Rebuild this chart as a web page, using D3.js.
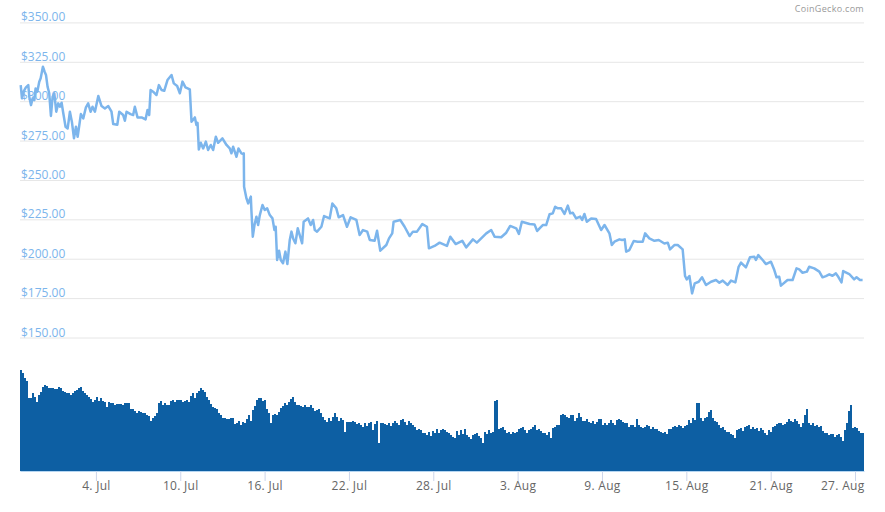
<!DOCTYPE html>
<meta charset="utf-8">
<style>
    html, body { margin: 0; background: #fff; }
    text { font-family: "Open Sans", sans-serif; }
</style>
<script src="https://d3js.org/d3.v7.min.js"></script>
<div id="graph"></div>
<script>
    // days counted from 1 Jul, price in USD
    var priceDays = [-2.35,-2.26,-2.12,-1.98,-1.81,-1.74,-1.62,-1.50,-1.38,-1.29,-1.17,-1.03,-0.93,-0.77,-0.65,-0.55,-0.44,-0.32,-0.20,-0.08,
        0.04,0.18,0.32,0.44,0.56,0.68,0.84,0.99,1.15,1.29,1.44,1.58,1.70,1.82,1.93,2.10,2.29,2.45,2.62,2.76,2.93,3.17,3.40,3.64,3.88,
        4.11,4.23,4.52,4.66,4.94,5.06,5.18,5.46,5.65,5.77,5.96,6.25,6.53,6.67,6.79,6.89,7.07,7.31,7.48,7.67,7.86,8.09,8.38,8.54,8.78,8.97,
        9.16,9.37,9.68,9.80,10.04,10.15,10.23,10.32,10.46,10.63,10.82,10.98,11.17,11.34,11.53,11.69,12.0,12.29,12.52,12.64,12.76,13.0,13.14,13.35,13.49,
        13.52,13.54,13.71,13.83,14.02,14.06,14.16,14.28,14.42,14.54,14.66,14.85,15.01,15.18,15.37,15.56,15.7,15.79,15.89,16.03,16.15,16.31,16.48,16.62,16.79,16.91,
        17.03,17.19,17.36,17.5,17.67,17.78,18.09,18.28,18.45,18.57,18.73,19.04,19.23,19.63,19.82,20.1,20.27,20.58,20.86,21.12,21.53,21.76,22.0,22.3,22.48,22.83,23.0,23.23,23.66,23.85,
        24.08,24.18,24.65,24.96,25.32,25.55,25.84,26.22,26.55,26.69,27.09,27.45,27.97,28.21,28.59,29.06,29.34,29.82,30.1,30.77,31.12,31.36,31.83,32.19,32.47,32.9,33.09,33.3,33.85,34.2,34.39,
        34.56,34.79,35.03,35.27,35.5,35.67,35.86,36.1,36.33,36.57,36.74,36.92,37.16,37.45,37.59,37.75,37.92,38.23,38.58,38.94,39.18,39.53,39.7,39.89,40.24,40.43,40.62,40.72,40.95,41.26,41.54,41.9,
        42.07,42.37,42.73,43.04,43.44,43.68,43.84,44.15,44.39,44.74,44.91,45.03,45.22,45.41,45.6,45.88,46.12,46.4,46.76,47.11,47.35,47.59,47.94,48.18,48.49,48.72,48.89,49.24,49.53,49.84,49.95,
        50.12,50.43,50.67,51.02,51.26,51.42,51.61,51.73,52.2,52.56,52.84,53.03,53.27,53.58,53.74,54.1,54.46,54.69,54.93,55.17,55.4,55.64,55.83,56.04,56.16,56.59,56.94,57.11,57.35,57.54];

    var prices = [310.2,301.8,306.6,308.8,310.2,302.8,297.5,301.8,300.7,308.1,306,312.4,314.5,321.9,318.7,316.6,309.2,305,290.6,302.8,
        305,293.3,298.6,296.5,299,292.3,283.8,282.7,293.3,287,276.4,283.8,277.4,284.9,291.8,289.1,296.1,298.6,293.3,296.5,293.3,303.3,296.9,295.4,296.9,
        293.3,285.5,285,293.3,291.2,287.6,293.3,291.8,291.2,296.5,289.7,289.7,288.4,294.4,291.2,307.1,306,303.9,310.2,307.1,306.6,313.4,316.6,311.3,309.6,305,
        312.4,308.8,307.5,287,289.7,284.9,286.3,269.4,273.6,270,274.3,269,272.2,269,277.4,273.6,276.4,272.2,270,266.9,271.1,264.7,270,266.9,266.4,
        266.9,245.7,238.3,235.1,239.4,230.9,214,221.4,226.7,221.4,227.7,234.1,230.9,232,227.7,225.6,218.2,220.3,199.2,205.1,199.2,197.1,204.5,196.6,211.9,217.2,
        212.9,209.8,219.3,215,209.8,223.5,225.6,221.4,224.6,218.2,217.2,220.3,227.1,225.6,235.1,232,226.3,227.7,220.3,226.3,224.6,215,218.2,217.2,211.9,211.4,217.8,205.1,208.7,212.9,
        216.1,223.5,224.6,220.3,214.4,217.2,217.2,222,220.3,206.6,208.1,210.2,208.1,214,209.3,211.4,207.2,212.3,210.2,216.1,218.2,214,213.6,216.5,220.8,219.3,215.7,223.5,222,221.8,217.6,
        219.3,221.4,221.4,228.2,228.8,233,232,232,228.4,233.7,228.8,229.2,225.6,226.7,224.6,228.4,223.5,225.6,225.2,218.2,221.4,216.1,208.7,210.8,212.3,211.9,212.3,204.5,205.5,211.2,210.8,210.8,
        216.1,212.9,211.4,211.9,209.7,210.2,205.9,208.7,208.7,205.9,189,186.9,189,178,184.4,185.4,188.2,183.3,185.4,186.5,184.8,186.1,183.3,186.1,185,194.9,197.5,194.5,200.9,201.3,199.2,
        202.3,199.2,196.6,198.1,192.8,188.2,188.6,182.9,186.5,186.5,193.9,193.2,191.1,191.8,194.9,193.9,191.8,188.2,189,190.1,189.2,190.7,188.2,185,192.2,190.3,186.9,188.2,186.5,186.5];

    // relative volume, one value per bar
    var volumes = [100.7,98,92.4,90,72.4,73,77.4,74,69,76,
        79,84,85.7,85,82.4,83,83,82,81.4,84,
        83,80,79,78,77.4,76,78,80,80.7,83,
        84,80,77.4,76,74,72,69,71,73.4,70,
        72.4,70,69,64,69,68,67.4,66,66.4,67,
        66.7,66,67.4,68,68,62,61.4,60,57.4,60,
        59,58,57.4,56,55,50,52.4,55,57.4,68,
        70,66,67.4,66,65.7,70,70.7,69,70.7,71,
        70.7,69,70,71,69,75,77.4,73,77.4,80,
        82.4,81,79,74,70.7,67,64,63,61.4,58,
        55.7,53,52.4,52,51.4,53,52.4,47,48,50,
        45.7,49,47.4,52,55.7,50,60.7,65,70.7,73,
        72.4,70,70.7,62,57.4,48,55.7,57,55.7,59,
        62.4,65,67.4,66,69,72,74,69,65.7,66,
        64.7,64,
        65.7,64,63.4,66,62.4,60,60.7,62,57.4,54,
        50.7,49,52.4,50,53.4,58,53.4,50,52.4,51,
        39,49,49,49,50,49,47,48,46,44,
        48,44.7,48,49,40.7,47,50,27.4,47.4,48,
        47,46,47.4,45,47.4,50,47.4,46,50.7,52,
        49,46,50,48,45.7,44,40.7,42,40.7,38,
        37.4,36,39,35,40,38,41.4,38,40.7,42,
        40.7,39,38,36,34,33,
        40,36,40.7,37,41.4,36,34,32,35.7,37,
        37.4,35,32.4,28,39,37,40.7,38,39,70,
        70.7,42,42.4,44,40.7,38,39,37,39,38,
        39,42,42.4,44,40.7,38,40.7,42,44,46,
        40.7,42,40,38,37.4,36,39,33,42.4,44,
        45.7,46,55.7,57,55.7,54,52.4,56,55.7,50,
        52.4,58,53.4,50,50,52,49,48,50,47,
        49,52,51.4,46,47.4,46,47.4,51,48,46,
        50.7,52,50.7,49,47.4,48,44,46,45.7,44,
        51.4,46,44,43,44,46,44.7,42,44,42,
        41.4,40,39,38,39,37,41.4,42,43.4,45,
        44,46,44.7,43,44.7,46,50.7,48,52.4,51,
        67.4,67.4,52.4,50,52.4,54,59,61,52.4,50,
        49,46,42.4,44,40.7,39,39,37,35.7,33,
        40.7,42,42.4,40,43.4,45,45.7,42,43.4,42,
        42.4,40,42.4,41,38,36,40.7,39,43.4,45,
        46.7,48,47.4,46,46.7,49,51.4,50,49,52,
        50,47,44,48,55.7,62,48,46,47.4,45,
        45.7,44,44.7,40,37.4,38,35.7,37,36.7,34,
        35.7,37,34,30,40.7,48,60,65.7,42.4,44,
        42.4,40,37.4,38];

    var priceTicks = [150, 175, 200, 225, 250, 275, 300, 325, 350];
    var dayTicks = [3, 9, 15, 21, 27, 33, 39, 45, 51, 57];
    var dayLabels = ["4. Jul", "10. Jul", "16. Jul", "22. Jul", "28. Jul", "3. Aug", "9. Aug", "15. Aug", "21. Aug", "27. Aug"];

    var width = 885, height = 512;
    var left = 20, right = 864;

    var svg = d3.select("#graph").append("svg")
        .attr("width", width)
        .attr("height", height)
        .style("display", "block");

    var x = d3.scaleLinear().domain([-2.4, 57.64]).range([left, right]);
    var y = d3.scaleLinear().domain([150, 350]).range([337.5, 22.4]);
    var yVol = d3.scaleLinear().domain([0, 100]).range([470.7, 370.7]);
    var xVol = d3.scaleBand().domain(d3.range(volumes.length)).range([left, right]);

    // price axis: gridlines plus labels sitting on top of them
    var priceAxis = svg.append("g")
        .attr("transform", "translate(" + left + ",0)")
        .call(d3.axisRight(y)
            .tickValues(priceTicks)
            .tickSize(right - left)
            .tickFormat(function (d) { return "$" + d + ".00"; }));
    priceAxis.select(".domain").remove();
    priceAxis.selectAll("line").attr("stroke", "#e6e6e6");
    priceAxis.selectAll("text")
        .attr("x", 1)
        .attr("y", -1.5)
        .attr("dy", 0)
        .attr("text-anchor", "start")
        .attr("fill", "#7cb5ec")
        .attr("font-size", "12px");

    // volume bars
    svg.append("g")
        .attr("shape-rendering", "crispEdges")
        .selectAll("rect")
        .data(volumes)
        .enter()
        .append("rect")
        .attr("x", function (d, i) { return xVol(i); })
        .attr("width", xVol.bandwidth())
        .attr("y", function (d) { return yVol(d); })
        .attr("height", function (d) { return yVol(0) - yVol(d); })
        .attr("fill", "#0d5fa3");

    // price line
    var line = d3.line()
        .x(function (d, i) { return x(priceDays[i]); })
        .y(function (d) { return y(d); });

    svg.append("path")
        .datum(prices)
        .attr("d", line)
        .attr("fill", "none")
        .attr("stroke", "#7cb5ec")
        .attr("stroke-width", 2.5)
        .attr("stroke-linejoin", "round");

    // date axis
    var dayAxis = svg.append("g")
        .attr("transform", "translate(0,471)")
        .call(d3.axisBottom(x)
            .tickValues(dayTicks)
            .tickSize(10)
            .tickSizeOuter(0)
            .tickFormat(function (d, i) { return dayLabels[i]; }));
    dayAxis.select(".domain").attr("stroke", "#b5d6f2");
    dayAxis.selectAll("line").attr("stroke", "#ccd6eb");
    dayAxis.selectAll("text")
        .attr("y", 19)
        .attr("dy", 0)
        .attr("fill", "#666")
        .attr("font-size", "12px")
        .style("letter-spacing", "0.3px");
    // last label is pulled in so it stays inside the plot
    dayAxis.selectAll("text").filter(function (d) { return d === 57; })
        .attr("text-anchor", "end")
        .attr("x", right - x(57));

    svg.append("text")
        .attr("x", right)
        .attr("y", 12)
        .attr("text-anchor", "end")
        .attr("fill", "#999")
        .attr("font-size", "9px")
        .style("letter-spacing", "0.3px")
        .text("CoinGecko.com");
</script>
